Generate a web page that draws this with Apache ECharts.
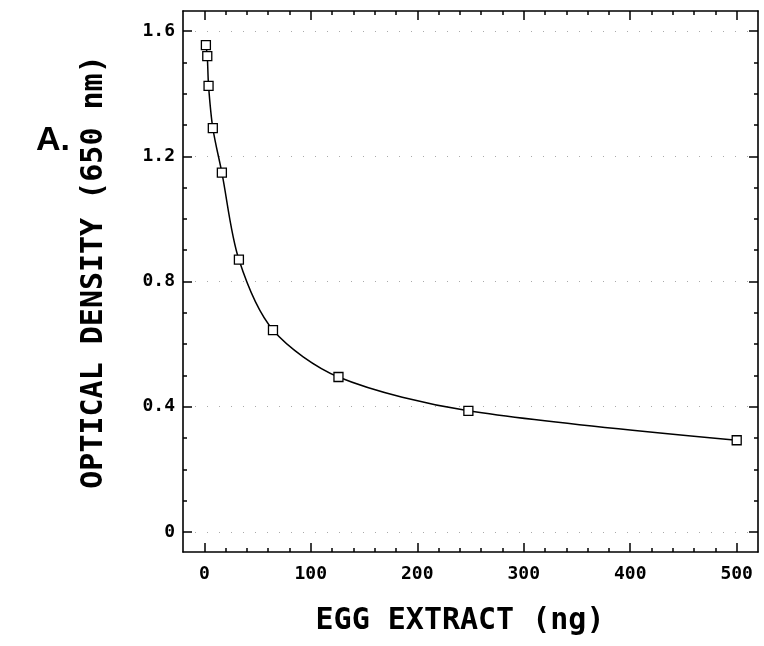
<!DOCTYPE html>
<html>
<head>
  <meta charset="UTF-8">
  <title>Egg extract</title>
  <script src="https://cdn.jsdelivr.net/npm/echarts@6/dist/echarts.min.js"></script>
  <style>
    * { padding: 0; margin: 0; }
    #box { width: 764px; height: 646px; background: #fff; }
  </style>
</head>
<body>
  <div id="box"></div>
  <script>
    // data
    var eggNg = [1.5, 2.8, 4, 8, 16.5, 32.5, 64.5, 126, 248, 500]
    var opticalDensity = [1.555, 1.52, 1.425, 1.29, 1.148, 0.87, 0.645, 0.495, 0.387, 0.293]

    var xTicks = [0, 100, 200, 300, 400, 500]
    var yTicks = [0, 0.4, 0.8, 1.2, 1.6]
    var xMinorStep = 20
    var yMinorStep = 0.1

    var xMinor = []
    for (let v = 0; v <= 500; v += xMinorStep) {
      if (v % 100 !== 0) xMinor.push(v)
    }
    var yMinor = []
    for (let i = 0; i <= 16; i++) {
      if (i % 4 !== 0) yMinor.push(Math.round(i * yMinorStep * 10) / 10)
    }

    var points = []
    for (let i = 0; i < eggNg.length; i++) {
      points.push([eggNg[i], opticalDensity[i]])
    }

    var mono = 'DejaVu Sans Mono'
    var xMin = -20, xMax = 520
    var yMin = -0.064, yMax = 1.664

    function frameAxis(type, pos, ticks, len, withLabels, showLine) {
      var ax = {
        type: 'value',
        position: pos,
        min: type === 'x' ? xMin : yMin,
        max: type === 'x' ? xMax : yMax,
        axisLine: { show: showLine, onZero: false, lineStyle: { color: '#000', width: 1.6 } },
        axisTick: { show: true, inside: true, length: len, customValues: ticks,
          lineStyle: { color: '#000', width: 1.5 } },
        axisLabel: { show: false },
        splitLine: { show: false }
      }
      if (withLabels) {
        ax.axisLabel = {
          show: true,
          customValues: ticks,
          fontFamily: mono,
          fontWeight: 'bold',
          fontSize: 18,
          color: '#000',
          margin: type === 'x' ? 13 : 8,
          formatter: function (v) {
            if (type === 'x') return String(v)
            return v === 0 ? '0' : v.toFixed(1)
          }
        }
        if (type === 'y') {
          ax.splitLine = { show: true, lineStyle: { color: '#aaa', type: [1, 11], width: 1 } }
        }
      }
      return ax
    }

    var mCharts = echarts.init(document.getElementById('box'))
    var option = {
      animation: false,
      backgroundColor: '#fff',
      grid: { left: 183, right: 6, top: 11, bottom: 94 },
      xAxis: [
        frameAxis('x', 'bottom', xTicks, 9, true, true),
        frameAxis('x', 'bottom', xMinor, 4, false, false),
        frameAxis('x', 'top', xTicks, 9, false, true),
        frameAxis('x', 'top', xMinor, 4, false, false)
      ],
      yAxis: [
        frameAxis('y', 'left', yTicks, 9, true, true),
        frameAxis('y', 'left', yMinor, 4, false, false),
        frameAxis('y', 'right', yTicks, 9, false, true),
        frameAxis('y', 'right', yMinor, 4, false, false)
      ],
      graphic: [
        {
          type: 'text', left: 36, top: 124,
          style: { text: 'A.', fontFamily: 'Liberation Sans', fontWeight: 'bold', fontSize: 34, fill: '#000' }
        },
        {
          type: 'text', x: 460, y: 621,
          style: { text: 'EGG EXTRACT (ng)', fontFamily: mono, fontWeight: 'bold', fontSize: 30,
            fill: '#000', align: 'center', verticalAlign: 'middle' }
        },
        {
          type: 'text', x: 94, y: 272, rotation: Math.PI / 2,
          style: { text: 'OPTICAL DENSITY (650 nm)', fontFamily: mono, fontWeight: 'bold', fontSize: 30,
            fill: '#000', align: 'center', verticalAlign: 'middle' }
        }
      ],
      series: [{
        type: 'line',
        xAxisIndex: 0,
        yAxisIndex: 0,
        data: points,
        smooth: 0.3,
        symbol: 'rect',
        symbolSize: 9,
        itemStyle: { color: '#fff', borderColor: '#000', borderWidth: 1.3 },
        lineStyle: { color: '#000', width: 1.5 },
        z: 5
      }]
    }
    mCharts.setOption(option)
  </script>
</body>
</html>
